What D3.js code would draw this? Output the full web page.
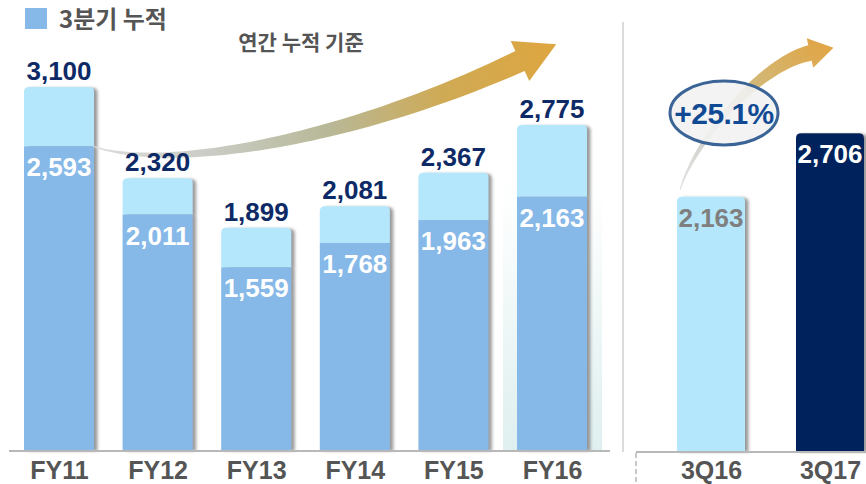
<!DOCTYPE html>
<html><head><meta charset="utf-8">
<script src="https://cdn.jsdelivr.net/npm/d3@7"></script>
<style>
html,body{margin:0;padding:0;background:#fff;}
svg{display:block;}
</style></head>
<body>
<svg id="chart" width="866" height="484"></svg>
<script>
// ---- data ----
const categories = ["FY11","FY12","FY13","FY14","FY15","FY16"];
const annualTotal = [3100, 2320, 1899, 2081, 2367, 2775];
const q3Cumulative = [2593, 2011, 1559, 1768, 1963, 2163];
const quarterCats = ["3Q16","3Q17"];
const quarterValues = [2163, 2706];
const growthLabel = "+25.1%";
const legendLabel = "3분기 누적";
const subtitle = "연간 누적 기준";

const svg = d3.select("#chart");
const W = 866, H = 484;
const baseY = 450;
const fmt = d3.format(",");

const y = d3.scaleLinear().domain([0, 3100]).range([baseY, 87]);
const xL = d3.scalePoint().domain(categories).range([59, 552]);
const xR = d3.scalePoint().domain(quarterCats).range([711, 830]);
const barW = 70;

const defs = svg.append("defs");
const sh = defs.append("filter").attr("id","shadow").attr("x","-20%").attr("y","-10%").attr("width","150%").attr("height","130%");
sh.append("feDropShadow").attr("dx",3.5).attr("dy",1).attr("stdDeviation",1.6)
  .attr("flood-color","#7a7a7a").attr("flood-opacity",0.75);

const shade = defs.append("linearGradient").attr("id","shade").attr("x1",0).attr("y1",0).attr("x2",0).attr("y2",1);
shade.append("stop").attr("offset",0).attr("stop-color","#ffffff").attr("stop-opacity",0);
shade.append("stop").attr("offset",0.4).attr("stop-color","#f5fafa");
shade.append("stop").attr("offset",1).attr("stop-color","#dfefef");

const g1 = defs.append("linearGradient").attr("id","arrowL").attr("gradientUnits","userSpaceOnUse")
  .attr("x1",90).attr("y1",150).attr("x2",555).attr("y2",50);
[[0,"#dcdcdc"],[0.25,"#c9ccc4"],[0.5,"#b8b897"],[0.75,"#cfaa55"],[1,"#dea640"]].forEach(s=>
  g1.append("stop").attr("offset",s[0]).attr("stop-color",s[1]));
const g2 = defs.append("linearGradient").attr("id","arrowR").attr("gradientUnits","userSpaceOnUse")
  .attr("x1",680).attr("y1",190).attr("x2",830).attr("y2",45);
[[0,"#e2e2e2"],[0.35,"#cdcdc6"],[0.6,"#d2b877"],[1,"#e1a545"]].forEach(s=>
  g2.append("stop").attr("offset",s[0]).attr("stop-color",s[1]));

function topRounded(x, yy, w, h, r){
  return `M${x},${yy+h}V${yy+r}Q${x},${yy} ${x+r},${yy}H${x+w-r}Q${x+w},${yy} ${x+w},${yy+r}V${yy+h}Z`;
}

// curved tapered arrow
function arrow(p, w0, w1, headHalf, headLen, fill){
  const bz = t => {
    const a=(1-t)**3, b=3*(1-t)**2*t, c=3*(1-t)*t*t, d=t**3;
    return [a*p[0][0]+b*p[1][0]+c*p[2][0]+d*p[3][0], a*p[0][1]+b*p[1][1]+c*p[2][1]+d*p[3][1]];
  };
  const N = 60, top=[], bot=[];
  for(let i=0;i<=N;i++){
    const t=i/N, q=bz(t), q2=bz(Math.min(1,t+0.001)), q1=bz(Math.max(0,t-0.001));
    let dx=q2[0]-q1[0], dy=q2[1]-q1[1]; const L=Math.hypot(dx,dy); dx/=L; dy/=L;
    const nx=-dy, ny=dx; const w=(w0+(w1-w0)*Math.pow(t,1.1))/2;
    top.push([q[0]-nx*w, q[1]-ny*w]); bot.push([q[0]+nx*w, q[1]+ny*w]);
  }
  let dx=p[3][0]-p[2][0], dy=p[3][1]-p[2][1]; const L=Math.hypot(dx,dy); dx/=L; dy/=L;
  const nx=-dy, ny=dx, e=p[3];
  const pts = top.concat([[e[0]-nx*headHalf, e[1]-ny*headHalf],[e[0]+dx*headLen, e[1]+dy*headLen],[e[0]+nx*headHalf, e[1]+ny*headHalf]], bot.reverse());
  svg.append("path").attr("d", d3.line()(pts)+"Z").attr("fill", fill);
}

// FY16 background shading
svg.append("rect").attr("x", xL("FY16")-49).attr("y", y(3100)+60).attr("width", 99)
  .attr("height", baseY - y(3100) - 60).attr("fill","url(#shade)");

// divider
svg.append("line").attr("x1",623).attr("x2",623).attr("y1",22).attr("y2",452)
  .attr("stroke","#cfcfcf").attr("stroke-width",1.5);

// left bars
const barsL = svg.append("g");
categories.forEach((c,i)=>{
  const g = barsL.append("g").attr("filter","url(#shadow)");
  const x0 = xL(c)-barW/2;
  g.append("path").attr("d", topRounded(x0, y(annualTotal[i]), barW, y(q3Cumulative[i])-y(annualTotal[i]), 5))
    .attr("fill","#b5e7fc");
  g.append("rect").attr("x",x0).attr("y",y(q3Cumulative[i])).attr("width",barW)
    .attr("height",baseY-y(q3Cumulative[i])).attr("fill","#86b8e8");
});

// right bars
const barsR = svg.append("g");
quarterCats.forEach((c,i)=>{
  const x0 = xR(c)-34;
  barsR.append("path").attr("filter","url(#shadow)")
    .attr("d", topRounded(x0, y(quarterValues[i]), 68, baseY+1-y(quarterValues[i]), 5))
    .attr("fill", i===0 ? "#b5e7fc" : "#03205c");
});

// axis lines
svg.append("line").attr("x1",9).attr("x2",610).attr("y1",baseY+1).attr("y2",baseY+1)
  .attr("stroke","#b8b8b8").attr("stroke-width",2);
svg.append("line").attr("x1",636).attr("x2",866).attr("y1",baseY+2).attr("y2",baseY+2)
  .attr("stroke","#b8b8b8").attr("stroke-width",2);
svg.append("line").attr("x1",636).attr("x2",636).attr("y1",baseY+3).attr("y2",H)
  .attr("stroke","#b8b8b8").attr("stroke-width",1.5).attr("stroke-dasharray","5,3");

// arrows
const aStart = [xL("FY11")+34, y(q3Cumulative[0])];
arrow([aStart,[170,172],[350,140],[520,61]], 1, 22, 22, 40, "url(#arrowL)");
arrow([[680,190],[695,140],[760,64],[810,53]], 1, 16, 15, 24, "url(#arrowR)");

const font = "'Liberation Sans', Arial, sans-serif";
const kfont = "'Noto Sans CJK KR', sans-serif";

// top value labels
svg.append("g").selectAll("text").data(categories).join("text")
  .attr("x", c=>xL(c)).attr("y", (c,i)=>y(annualTotal[i])-7)
  .attr("text-anchor","middle").attr("font-family",font).attr("font-weight","bold")
  .attr("font-size",26).attr("fill","#0e2a66").text((c,i)=>fmt(annualTotal[i]));

// inner labels
svg.append("g").selectAll("text").data(categories).join("text")
  .attr("x", c=>xL(c)).attr("y", (c,i)=>y(q3Cumulative[i])+30)
  .attr("text-anchor","middle").attr("font-family",font).attr("font-weight","bold")
  .attr("font-size",26).attr("fill","#ffffff").text((c,i)=>fmt(q3Cumulative[i]));

svg.append("g").selectAll("text").data(quarterCats).join("text")
  .attr("x", c=>xR(c)).attr("y", (c,i)=>y(quarterValues[i])+30)
  .attr("text-anchor","middle").attr("font-family",font).attr("font-weight","bold")
  .attr("font-size",26).attr("fill",(c,i)=> i===0 ? "#7f7f7f" : "#ffffff").text((c,i)=>fmt(quarterValues[i]));

// axis labels
const axL = svg.append("g").attr("transform",`translate(0,${baseY})`)
  .call(d3.axisBottom(xL).tickSize(0).tickPadding(0));
const axR = svg.append("g").attr("transform",`translate(0,${baseY})`)
  .call(d3.axisBottom(xR).tickSize(0).tickPadding(0));
[axL,axR].forEach(ax=>{
  ax.select(".domain").remove();
  ax.selectAll("text").attr("dy",null).attr("y",29).attr("font-family",font).attr("font-weight","bold")
    .attr("font-size",25).attr("fill","#555555");
});

// growth ellipse
svg.append("ellipse").attr("cx",724).attr("cy",113).attr("rx",54).attr("ry",32)
  .attr("fill","#f2f2f2").attr("fill-opacity",0.9).attr("stroke","#3a6496").attr("stroke-width",3);
svg.append("text").attr("x",724).attr("y",124).attr("text-anchor","middle")
  .attr("font-family",font).attr("font-weight","bold").attr("font-size",30)
  .attr("letter-spacing",-0.5).attr("fill","#114a94").text(growthLabel);

// legend
svg.append("rect").attr("x",25).attr("y",8).attr("width",22).attr("height",21).attr("fill","#86b8e8");
svg.append("text").attr("x",59).attr("y",28).attr("font-family",kfont).attr("font-weight","bold")
  .attr("font-size",24).attr("fill","#555555").text(legendLabel);
svg.append("text").attr("x",301).attr("y",50).attr("text-anchor","middle").attr("font-family",kfont).attr("font-weight","bold")
  .attr("font-size",21).attr("fill","#555555").text(subtitle);
</script>
</body></html>
